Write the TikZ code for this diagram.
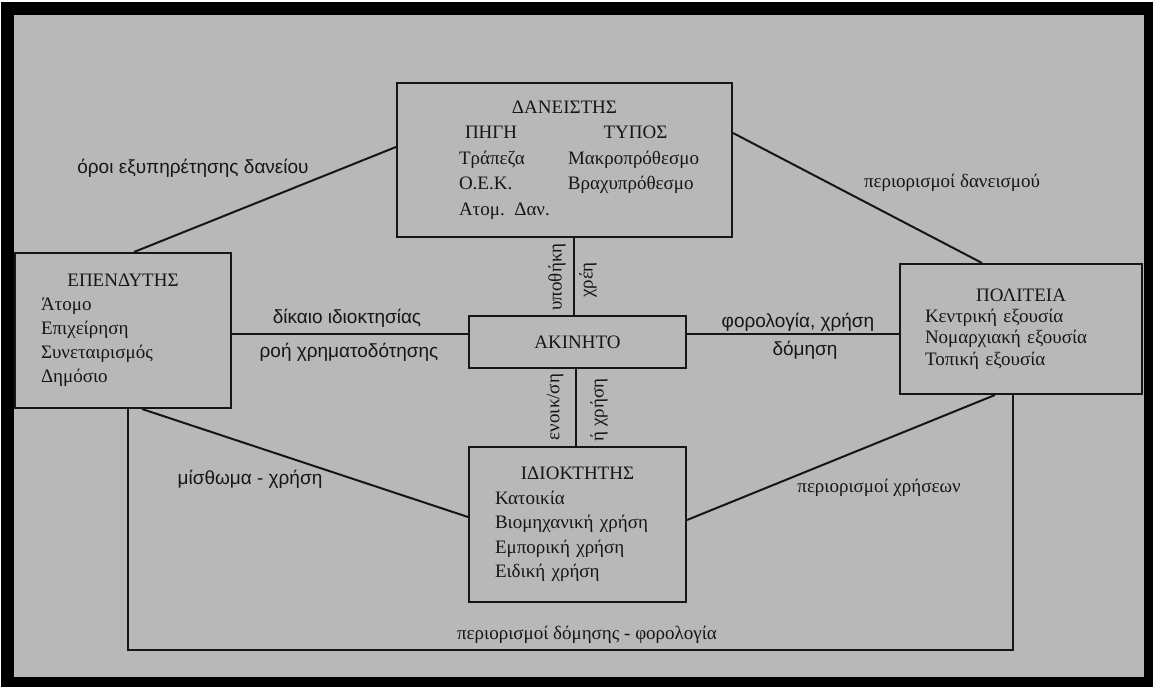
\documentclass[tikz,border=0pt]{standalone}
\usepackage{fontspec}
\setmainfont{Liberation Serif}
\setsansfont{Liberation Sans}

\definecolor{pagegray}{RGB}{184,184,184}
\definecolor{ink}{RGB}{22,22,22}

\begin{document}
\begin{tikzpicture}[x=0.5pt,y=-0.5pt,
		entity/.style={draw=ink, line width=1pt, inner sep=0pt, align=left, text=ink, font=\fontsize{9.5}{12}\selectfont},
		link/.style={draw=ink, line width=1pt},
		sanslabel/.style={inner sep=0pt, text=ink, font=\sffamily\fontsize{9.5}{11}\selectfont},
		seriflabel/.style={inner sep=0pt, text=ink, font=\fontsize{9.5}{11}\selectfont}]
	% Σελίδα και πλαίσιο
	\useasboundingbox (0,0) rectangle (1154,688);
	\fill[black] (1,2) rectangle (1153,687);
	\fill[pagegray] (14,15) rectangle (1144,677);

	% Κόμβοι
	\node[entity, minimum width=167.5pt, minimum height=77pt, text width=105.5pt, font=\fontsize{9.5}{12.8}\selectfont] (lender) at (564.5,160)
		{\makebox[\hsize]{ΔΑΝΕΙΣΤΗΣ}\\
		\mbox{\makebox[54.5pt][l]{\hspace{3pt}ΠΗΓΗ}\makebox[67.5pt]{ΤΥΠΟΣ}}\\
		\mbox{\makebox[54.5pt][l]{Τράπεζα}Μακροπρόθεσμο}\\
		\mbox{\makebox[54.5pt][l]{Ο.Ε.Κ.}Βραχυπρόθεσμο}\\
		Ατομ. Δαν.};
	\node[entity, minimum width=108pt, minimum height=77.5pt, text width=82pt] (investor) at (123,330.5)
		{\makebox[\hsize]{ΕΠΕΝΔΥΤΗΣ}\\ Άτομο\\ Επιχείρηση\\ Συνεταιρισμός\\ Δημόσιο};
	\node[entity, minimum width=108.5pt, minimum height=26pt, align=center] (property) at (577.5,342) {ΑΚΙΝΗΤΟ};
	\node[entity, minimum width=121pt, minimum height=65pt, text width=96pt, font=\fontsize{9.5}{10.6}\selectfont] (state) at (1021,329)
		{\makebox[\hsize]{ΠΟΛΙΤΕΙΑ}\\ Κεντρική εξουσία\\ Νομαρχιακή εξουσία\\ Τοπική εξουσία};
	\node[entity, minimum width=108.5pt, minimum height=77.5pt, text width=82.5pt, font=\fontsize{9.5}{12.3}\selectfont] (owner) at (577.5,524.5)
		{\makebox[\hsize]{ΙΔΙΟΚΤΗΤΗΣ}\\ Κατοικία\\ Βιομηχανική χρήση\\ Εμπορική χρήση\\ Ειδική χρήση};

	% Συνδέσεις
	\draw[link] ([xshift=5.5pt]investor.north) -- ([yshift=6.5pt]lender.west);
	\draw[link] ([yshift=13.5pt]lender.east) -- ([xshift=-19.5pt]state.north);
	\draw[link] ([yshift=-2pt]investor.east) -- ([yshift=-2pt]investor.east -| property.west);
	\draw[link] ([yshift=-2.5pt]state.west -| property.east) -- ([yshift=-2.5pt]state.west);
	\draw[link] ([xshift=-2pt]property.north |- lender.south) -- ([xshift=-2pt]property.north);
	\draw[link] ([xshift=-1pt]property.south) -- ([xshift=-1pt]owner.north);
	\draw[link] ([xshift=9.5pt]investor.south) -- ([yshift=3.75pt]owner.west);
	\draw[link] ([xshift=-13pt]state.south) -- ([yshift=2.25pt]owner.east);
	\coordinate (floor) at (1013,650);
	\draw[link] ([xshift=2.5pt]investor.south) |- (floor) -- ([xshift=-4pt]state.south);

	% Ετικέτες
	\node[sanslabel] (servicing) at (193,168) {όροι εξυπηρέτησης δανείου};
	\node[seriflabel] (lendlimits) at (952,183) {περιορισμοί δανεισμού};
	\node[sanslabel] (title) at (347,318) {δίκαιο ιδιοκτησίας};
	\node[sanslabel] (funding) at (349,352) {ροή χρηματοδότησης};
	\node[sanslabel] (taxuse) at (798,322) {φορολογία, χρήση};
	\node[sanslabel] (building) at (805,350) {δόμηση};
	\node[sanslabel] (lease) at (250,479) {μίσθωμα - χρήση};
	\node[seriflabel] (uselimits) at (879,488) {περιορισμοί χρήσεων};
	\node[seriflabel] (buildtax) at (587,635) {περιορισμοί δόμησης - φορολογία};
	\node[seriflabel, rotate=90] (mortgage) at (557,277) {υποθήκη};
	\node[seriflabel, rotate=90] (debts) at (588,280) {χρέη};
	\node[seriflabel, rotate=90] (renting) at (555,407) {ενοικ/ση};
	\node[seriflabel, rotate=90] (ownuse) at (599,410) {ή χρήση};
\end{tikzpicture}
\end{document}
